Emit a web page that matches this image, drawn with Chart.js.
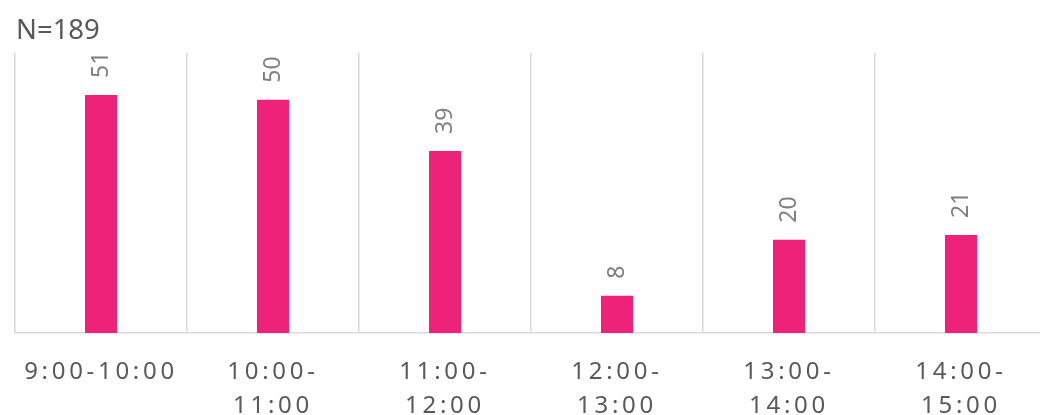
<!DOCTYPE html>
<html>
<head>
<meta charset="utf-8">
<script src="https://cdn.jsdelivr.net/npm/chart.js@4.4.1/dist/chart.umd.min.js"></script>
<style>
  html, body { margin: 0; padding: 0; overflow: hidden; background: #ffffff; }
  #wrap { position: absolute; left: 0; top: 0; width: 1047px; height: 415px; }
</style>
</head>
<body>
<div id="wrap"><canvas id="c"></canvas></div>
<script>
const categories = [
  "9:00-10:00",
  ["10:00-", "11:00"],
  ["11:00-", "12:00"],
  ["12:00-", "13:00"],
  ["13:00-", "14:00"],
  ["14:00-", "15:00"]
];
const counts = [51, 50, 39, 8, 20, 21];
const titleText = "N=189";

const GRID = "#d9d9d9";
const BAR = "#ef2279";

const spacingPlugin = {
  id: "spacing",
  beforeLayout(chart) { chart.ctx.letterSpacing = "3.7px"; },
  beforeDraw(chart) { chart.ctx.letterSpacing = "3.7px"; },
  afterDraw(chart) {
    const ctx = chart.ctx;
    ctx.save();
    ctx.letterSpacing = "0px";
    // title
    ctx.fillStyle = "#595959";
    ctx.font = "27.5px 'Noto Sans'";
    ctx.textAlign = "left";
    ctx.textBaseline = "alphabetic";
    ctx.fillText(titleText, 16, 39);
    // value labels
    const meta = chart.getDatasetMeta(0);
    ctx.fillStyle = "#7f7f7f";
    ctx.font = "23px 'Noto Sans'";
    meta.data.forEach((bar, i) => {
      ctx.save();
      ctx.translate(bar.x, bar.y - 17);
      ctx.rotate(-Math.PI / 2);
      ctx.textAlign = "left";
      ctx.textBaseline = "middle";
      ctx.fillText(String(counts[i]), 0, 0);
      ctx.restore();
    });
    ctx.restore();
  }
};

new Chart(document.getElementById("c"), {
  type: "bar",
  data: {
    labels: categories,
    datasets: [{
      data: counts,
      backgroundColor: BAR,
      borderWidth: 0,
      categoryPercentage: 1,
      barPercentage: 0.186
    }]
  },
  options: {
    responsive: true,
    maintainAspectRatio: false,
    animation: false,
    events: [],
    layout: { padding: { left: 15, top: 53, right: 0, bottom: 0 } },
    plugins: { legend: { display: false }, tooltip: { enabled: false }, title: { display: false } },
    scales: {
      x: {
        grid: { display: true, color: GRID, lineWidth: 1.5, drawTicks: false, offset: true },
        border: { display: true, color: GRID, width: 1.5 },
        ticks: {
          color: "#595959",
          font: { family: "'Noto Sans'", size: 24, lineHeight: 1.42 },
          padding: 22,
          maxRotation: 0,
          autoSkip: false
        },
        afterFit(scale) { scale.height = 82; }
      },
      y: {
        display: false,
        min: 0,
        max: 60
      }
    }
  },
  plugins: [spacingPlugin]
});
</script>
</body>
</html>
